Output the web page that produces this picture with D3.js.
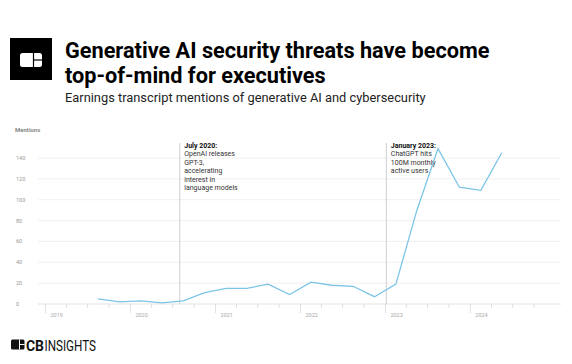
<!DOCTYPE html>
<html>
<head>
<meta charset="utf-8">
<script src="https://cdn.jsdelivr.net/npm/d3@7"></script>
<style>
  html, body { margin: 0; padding: 0; background: #fff; }
  svg { display: block; font-family: Roboto, "Noto Sans", sans-serif; }
</style>
</head>
<body>
<svg id="chart" width="572" height="364"></svg>
<script>
// ---- data ----
const quarters = ["2019-08-15","2019-11-15","2020-02-15","2020-05-15","2020-08-15","2020-11-15",
  "2021-02-15","2021-05-15","2021-08-15","2021-11-15","2022-02-15","2022-05-15","2022-08-15","2022-11-15",
  "2023-02-15","2023-05-15","2023-08-15","2023-11-15","2024-02-15","2024-05-15"];
const mentions = [5, 2, 3, 1, 3, 11, 15, 15, 19, 9, 21, 18, 17, 7, 19, 89, 149, 112, 109, 145];
const yTicks = [0, 20, 40, 60, 80, 100, 120, 140];
const yearLabels = ["2019","2020","2021","2022","2023","2024"];
const annotationDates = ["2020-07-31", "2023-01-05"];
const annotationTitles = ["July 2020:", "January 2023:"];
const annotationLines = [
  ["OpenAI releases", "GPT-3,", "accelerating", "interest in", "language models"],
  ["ChatGPT hits", "100M monthly", "active users"]
];
const titleLines = ["Generative AI security threats have become", "top-of-mind for executives"];
const subtitle = "Earnings transcript mentions of generative AI and cybersecurity";
const yAxisTitle = "Mentions";

// ---- layout ----
const svg = d3.select("#chart");
const parse = d3.utcParse("%Y-%m-%d");
const x = d3.scaleUtc().domain([parse("2019-01-01"), parse("2025-01-01")]).range([45.5, 555.5]);
const y = d3.scaleLinear().domain([0, 140]).range([304, 158]);

// header logo
const logo = svg.append("g");
logo.append("rect").attr("x", 10).attr("y", 38).attr("width", 42).attr("height", 42).attr("fill", "#000");
logo.append("rect").attr("x", 20).attr("y", 53).attr("width", 22).attr("height", 14).attr("rx", 2.5).attr("fill", "#fff");
logo.append("line").attr("x1", 33.5).attr("x2", 33.5).attr("y1", 53).attr("y2", 67).attr("stroke", "#000").attr("stroke-width", 1.2);
logo.append("line").attr("x1", 33.5).attr("x2", 42).attr("y1", 60).attr("y2", 60).attr("stroke", "#000").attr("stroke-width", 1.2);

// title
svg.append("g").selectAll("text").data(titleLines).join("text")
  .attr("x", 65).attr("y", (d, i) => 58 + i * 25)
  .attr("font-size", 21.7).attr("font-weight", 700).attr("fill", "#000")
  .text(d => d);
svg.append("text").attr("x", 65).attr("y", 102).attr("font-size", 12.85).attr("fill", "#222").text(subtitle);

// y axis title
svg.append("text").attr("x", 15).attr("y", 131.5).attr("font-size", 6).attr("font-weight", 700).attr("fill", "#888").text(yAxisTitle);

// gridlines + y labels
const grid = svg.append("g");
grid.selectAll("line").data(yTicks).join("line")
  .attr("x1", 38).attr("x2", 561)
  .attr("y1", d => y(d)).attr("y2", d => y(d))
  .attr("stroke", d => d === 0 ? "#e2e2e2" : "#f0f0f0").attr("stroke-width", 1);
svg.append("g").selectAll("text").data(yTicks).join("text")
  .attr("x", 16).attr("y", d => y(d) + 2)
  .attr("font-size", 5.5).attr("fill", "#999").text(d => d);

// x axis ticks (quarterly)
const qTicks = d3.utcMonth.every(3).range(parse("2019-01-01"), parse("2024-12-31"));
const xa = svg.append("g");
xa.selectAll("line").data(qTicks).join("line")
  .attr("x1", d => x(d)).attr("x2", d => x(d))
  .attr("y1", 304).attr("y2", d => d.getUTCMonth() === 0 ? 313 : 308)
  .attr("stroke", "#e0e0e0").attr("stroke-width", 1);
xa.selectAll("text").data(yearLabels).join("text")
  .attr("x", d => x(parse(d + "-01-01")) + 5).attr("y", 316.5)
  .attr("font-size", 5.5).attr("fill", "#aaa").text(d => d);

// annotations
annotationDates.forEach((ds, i) => {
  const ax = x(parse(ds));
  svg.append("line").attr("x1", ax).attr("x2", ax).attr("y1", 143).attr("y2", 304)
    .attr("stroke", "#cfcfcf").attr("stroke-width", 1);
  const t = svg.append("text").attr("x", ax + 4.5).attr("y", 148).attr("font-size", 7).attr("fill", "#333");
  t.append("tspan").attr("x", ax + 4.5).attr("font-weight", 700).attr("fill", "#111").text(annotationTitles[i]);
  annotationLines[i].forEach((l, j) => {
    t.append("tspan").attr("x", ax + 4.5).attr("dy", 8.4).text(l);
  });
});

// line
const pts = quarters.map((q, i) => ({ d: parse(q), v: mentions[i] }));
svg.append("path").datum(pts)
  .attr("fill", "none").attr("stroke", "#7cc5e6").attr("stroke-width", 1.3)
  .attr("stroke-linejoin", "miter")
  .attr("d", d3.line().x(p => x(p.d)).y(p => y(p.v)));

// footer logo
const f = svg.append("g");
f.append("rect").attr("x", 11).attr("y", 339.5).attr("width", 13.5).attr("height", 10).attr("rx", 1.5).attr("fill", "#111");
f.append("line").attr("x1", 19.5).attr("x2", 19.5).attr("y1", 339.5).attr("y2", 349.5).attr("stroke", "#fff").attr("stroke-width", 1);
f.append("line").attr("x1", 19.5).attr("x2", 24.5).attr("y1", 344.5).attr("y2", 344.5).attr("stroke", "#fff").attr("stroke-width", 1);
f.append("text").attr("x", 26).attr("y", 350.5).attr("font-size", 15).attr("font-weight", 700).attr("fill", "#111")
  .attr("textLength", 18).attr("lengthAdjust", "spacingAndGlyphs").text("CB");
f.append("text").attr("x", 44.5).attr("y", 350.5).attr("font-size", 15).attr("font-weight", 400).attr("fill", "#111")
  .attr("textLength", 51.5).attr("lengthAdjust", "spacingAndGlyphs").text("INSIGHTS");
</script>
</body>
</html>
